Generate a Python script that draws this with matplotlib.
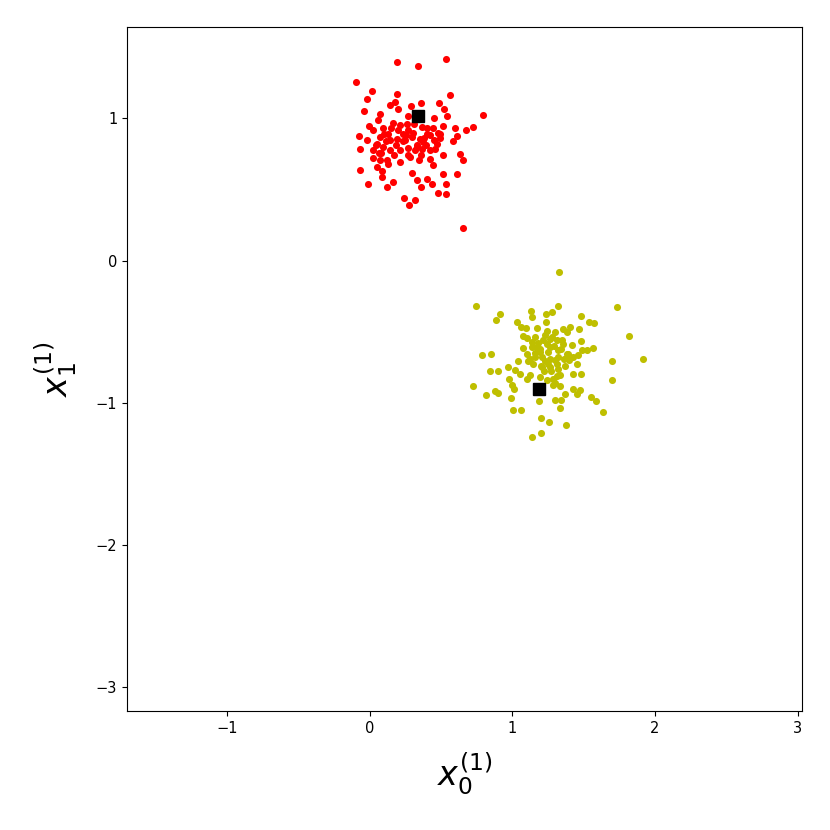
import numpy as np
import matplotlib
matplotlib.use('Agg')
import matplotlib.pyplot as plt

# cluster 0 (red) points
red_x = [0.192, 0.335, 0.533, -0.101, 0.791, 0.650, 0.012, -0.023, 0.187, 0.175,
         0.140, 0.199, 0.290, 0.356, 0.484, 0.522, 0.564, -0.040, 0.070, 0.058,
         0.538, 0.451, 0.269, -0.005, -0.075, -0.023, 0.023, 0.094, 0.159, 0.211,
         0.269, 0.292, 0.363, 0.402, 0.444, 0.510, 0.599, 0.674, 0.725, 0.608,
         0.585, 0.491, 0.468, 0.374, 0.327, 0.246, 0.187, 0.129, 0.070, 0.047,
         -0.070, 0.023, 0.094, 0.140, 0.211, 0.269, 0.316, 0.363, 0.421, 0.456,
         0.515, 0.632, 0.655, 0.421, 0.344, 0.281, 0.023, 0.070, 0.117, 0.051,
         0.082, -0.070, 0.292, 0.327, 0.398, 0.433, 0.515, 0.608, 0.533, 0.358,
         0.164, 0.117, 0.082, -0.016, 0.241, 0.316, 0.274, 0.480, 0.533, 0.440,
         0.491, 0.140, 0.234, 0.351,
         0.110, 0.180, 0.250, 0.300, 0.380, 0.420, 0.200, 0.150, 0.060, 0.330,
         0.270, 0.230, 0.100, 0.170, 0.390, 0.450, 0.310, 0.130, 0.040, 0.210,
         0.360, 0.260, 0.080, 0.400, 0.480]
red_y = [1.396, 1.368, 1.415, 1.255, 1.021, 0.232, 1.190, 1.133, 1.173, 1.115,
         1.096, 1.068, 1.087, 1.108, 1.110, 1.068, 1.166, 1.052, 1.028, 0.991,
         1.016, 1.005, 1.016, 0.944, 0.876, 0.850, 0.916, 0.934, 0.967, 0.951,
         0.916, 0.869, 0.939, 0.892, 0.934, 0.944, 0.930, 0.920, 0.939, 0.874,
         0.841, 0.864, 0.822, 0.834, 0.810, 0.845, 0.857, 0.892, 0.869, 0.822,
         0.787, 0.775, 0.799, 0.775, 0.775, 0.740, 0.775, 0.787, 0.775, 0.787,
         0.740, 0.747, 0.705, 0.717, 0.710, 0.728, 0.724, 0.705, 0.705, 0.658,
         0.630, 0.639, 0.616, 0.569, 0.574, 0.536, 0.611, 0.611, 0.541, 0.518,
         0.553, 0.518, 0.588, 0.536, 0.442, 0.424, 0.389, 0.475, 0.466, 0.670,
         0.892, 0.845, 0.892, 0.857,
         0.840, 0.810, 0.880, 0.900, 0.860, 0.880, 0.920, 0.930, 0.760, 0.800,
         0.790, 0.840, 0.890, 0.740, 0.810, 0.850, 0.960, 0.680, 0.810, 0.690,
         0.740, 0.960, 0.760, 0.930, 0.900]

# cluster 1 (yellow) points
yel_x = [1.326, 0.742, 1.322, 1.731, 0.912, 0.884, 1.127, 1.135, 1.233, 1.275,
         1.029, 1.060, 1.095, 1.174, 1.235, 1.240, 1.404, 1.469, 1.478, 1.539,
         1.574, 1.818, 1.918, 1.698, 1.698, 0.784, 0.849, 0.842, 0.901, 0.725,
         0.814, 0.877, 0.896, 0.989, 1.006, 1.060, 1.198, 1.258, 1.375, 1.200,
         1.139, 1.633, 1.586, 1.549, 1.450, 1.427, 1.474, 1.368, 1.298, 1.333,
         1.338, 1.188, 0.971, 1.018, 1.053, 1.099, 1.123, 0.978, 0.994, 1.011,
         1.111, 1.158, 1.193, 1.263, 1.322, 1.380, 1.427, 1.462, 1.485, 1.520,
         1.567, 1.478, 1.415, 1.352, 1.310, 1.263, 1.216, 1.158, 1.099, 1.076,
         1.135, 1.099, 1.146, 1.205, 1.263, 1.310, 1.368, 1.427, 1.478, 1.333,
         1.287, 1.240, 1.287, 1.333, 1.193, 1.380, 1.357, 1.076, 1.298, 1.450,
         1.041, 1.228, 1.322, 1.170,
         1.180, 1.250, 1.300, 1.340, 1.210, 1.140, 1.270, 1.320, 1.360, 1.230,
         1.190, 1.290, 1.250, 1.160, 1.310, 1.400, 1.120, 1.220, 1.280, 1.350,
         1.260, 1.200, 1.390, 1.300, 1.240]
yel_y = [-0.082, -0.321, -0.316, -0.323, -0.375, -0.417, -0.356, -0.398, -0.379, -0.363,
         -0.429, -0.468, -0.473, -0.475, -0.433, -0.492, -0.464, -0.480, -0.393, -0.429,
         -0.438, -0.527, -0.691, -0.703, -0.843, -0.663, -0.656, -0.780, -0.780, -0.881,
         -0.948, -0.920, -0.932, -0.965, -1.049, -1.049, -1.108, -1.136, -1.159, -1.211,
         -1.241, -1.066, -0.988, -0.956, -0.941, -0.902, -0.913, -0.937, -0.984, -1.035,
         -0.984, -0.988, -0.745, -0.773, -0.796, -0.831, -0.808, -0.836, -0.878, -0.902,
         -0.703, -0.679, -0.644, -0.609, -0.632, -0.656, -0.679, -0.667, -0.632, -0.632,
         -0.614, -0.567, -0.597, -0.590, -0.562, -0.550, -0.557, -0.539, -0.543, -0.614,
         -0.609, -0.656, -0.726, -0.749, -0.749, -0.726, -0.738, -0.796, -0.796, -0.808,
         -0.831, -0.843, -0.878, -0.885, -0.820, -0.504, -0.480, -0.527, -0.504, -0.726,
         -0.703, -0.703, -0.679, -0.609,
         -0.580, -0.640, -0.700, -0.620, -0.680, -0.570, -0.780, -0.760, -0.690, -0.520,
         -0.620, -0.600, -0.730, -0.650, -0.810, -0.700, -0.690, -0.780, -0.540, -0.560,
         -0.690, -0.740, -0.660, -0.860, -0.590]

# centroids
cent_x = [0.337, 1.188]
cent_y = [1.014, -0.906]

fig = plt.figure(figsize=(8.3, 8.3), dpi=100)
ax = fig.add_axes([0.153, 0.143, 0.813, 0.824])
ax.scatter(red_x, red_y, s=26, c='r', linewidths=0)
ax.scatter(yel_x, yel_y, s=26, c='y', linewidths=0)
ax.plot(cent_x, cent_y, 'ks', markersize=9, linestyle='none')
ax.set_xlim(-1.705, 3.03)
ax.set_ylim(-3.17, 1.64)
ax.set_xticks([-1, 0, 1, 2, 3])
ax.set_yticks([-3, -2, -1, 0, 1])
ax.tick_params(labelsize=10.5)
ax.set_xlabel(r'$x_0^{(1)}$', fontsize=24, labelpad=10)
ax.set_ylabel(r'$x_1^{(1)}$', fontsize=24, labelpad=12)
fig.savefig('out.png', dpi=100)
